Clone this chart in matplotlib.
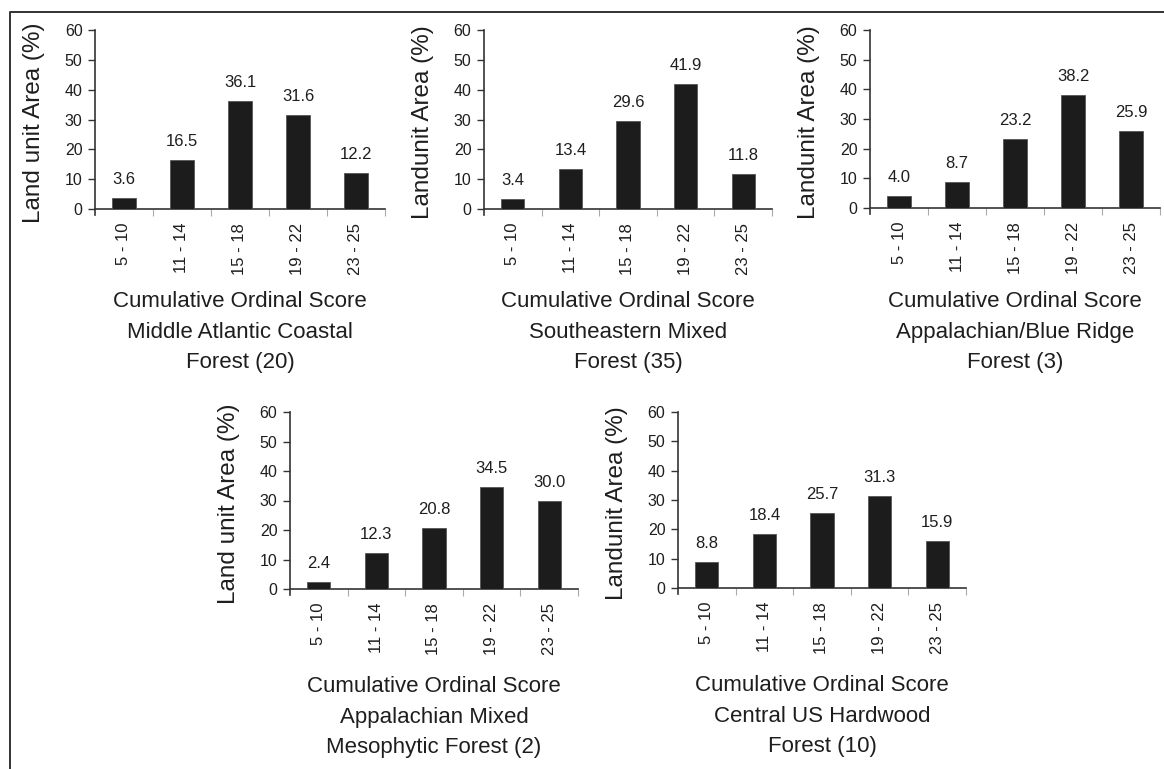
import matplotlib
matplotlib.use("Agg")
import matplotlib.pyplot as plt
from matplotlib.lines import Line2D

plt.rcParams['font.family'] = ['Liberation Sans', 'DejaVu Sans']

categories = ["5 - 10", "11 - 14", "15 - 18", "19 - 22", "23 - 25"]

mid_atlantic = [3.6, 16.5, 36.1, 31.6, 12.2]
southeastern = [3.4, 13.4, 29.6, 41.9, 11.8]
blue_ridge = [4.0, 8.7, 23.2, 38.2, 25.9]
mixed_meso = [2.4, 12.3, 20.8, 34.5, 30.0]
central_us = [8.8, 18.4, 25.7, 31.3, 15.9]

ylabels = ["Land unit Area (%)", "Landunit Area (%)", "Landunit Area (%)",
           "Land unit Area (%)", "Landunit Area (%)"]
xlabels = [
    ["Cumulative Ordinal Score", "Middle Atlantic Coastal", "Forest (20)"],
    ["Cumulative Ordinal Score", "Southeastern Mixed", "Forest (35)"],
    ["Cumulative Ordinal Score", "Appalachian/Blue Ridge", "Forest (3)"],
    ["Cumulative Ordinal Score", "Appalachian Mixed", "Mesophytic Forest (2)"],
    ["Cumulative Ordinal Score", "Central US Hardwood", "Forest (10)"],
]
series = [mid_atlantic, southeastern, blue_ridge, mixed_meso, central_us]

W, H = 1164, 769
fig = plt.figure(figsize=(W / 100, H / 100), dpi=100)
fig.patch.set_facecolor("white")

# panel boxes in pixels: left, right, top(60), bottom(0), xlabel baseline offset
boxes = [
    (95, 385, 30, 209, 98),
    (484, 772, 30, 209, 98),
    (870, 1160, 30, 208, 99),
    (290, 578, 412, 589, 103),
    (678, 966, 412, 588, 103),
]

TXT = "#1e1e1e"
AX = "#333333"

for vals, box, yl, xl in zip(series, boxes, ylabels, xlabels):
    x0, x1, yt, yb, off = box
    ax = fig.add_axes([x0 / W, 1 - yb / H, (x1 - x0) / W, (yb - yt) / H])
    xs = list(range(len(categories)))
    ax.bar(xs, vals, width=0.4, color="#1c1c1c", edgecolor="#555555", linewidth=0.6, zorder=3)
    ax.set_xlim(-0.5, len(categories) - 0.5)
    ax.set_ylim(0, 60)
    for s in ("top", "right"):
        ax.spines[s].set_visible(False)
    for s in ("left", "bottom"):
        ax.spines[s].set_color(AX)
        ax.spines[s].set_linewidth(1.2)
    ax.spines["left"].set_bounds(-2, 60)
    ax.set_yticks(range(0, 61, 10))
    ax.tick_params(axis="y", direction="out", length=5, width=1.0, color=AX,
                   labelsize=11.5, pad=4, labelcolor=TXT)
    ax.set_xticks(xs)
    ax.set_xticklabels(categories, rotation=90)
    ax.tick_params(axis="x", which="major", length=0, pad=10, labelsize=12, labelcolor=TXT)
    ax.set_xticks([i + 0.5 for i in xs], minor=True)
    ax.tick_params(axis="x", which="minor", direction="out", length=5, width=0.8, color="#aaaaaa")
    ax.patch.set_alpha(0)
    for i, v in enumerate(vals):
        ax.annotate(f"{v:.1f}", (i, v), xytext=(0, 10), textcoords="offset points",
                    ha="center", va="baseline", fontsize=12, color=TXT)
    # y label
    fig.text((x0 - 61) / W, 1 - ((yt + yb) / 2 + 3) / H, yl, rotation=90,
             ha="center", va="center", fontsize=17.5, color=TXT)
    # x label lines
    cx = (x0 + x1) / 2
    for k, line in enumerate(xl):
        by = yb + off + 30.5 * k
        fig.text(cx / W, 1 - by / H, line, ha="center", va="baseline",
                 fontsize=16, color=TXT)

# frame lines (left and top)
fig.add_artist(Line2D([10 / W, 10 / W, 1.0], [0.0, 1 - 12 / H, 1 - 12 / H],
                      transform=fig.transFigure, color=AX, linewidth=1.4))

fig.savefig("out.png", dpi=100, facecolor="white")
